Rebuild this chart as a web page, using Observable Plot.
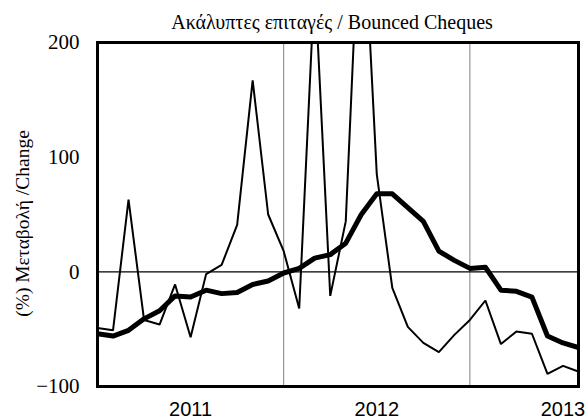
<!DOCTYPE html>
<html>
<head>
<meta charset="utf-8">
<script src="https://cdn.jsdelivr.net/npm/d3@7"></script>
<script src="https://cdn.jsdelivr.net/npm/@observablehq/plot@0.6"></script>
<style>
  html, body { margin: 0; padding: 0; background: white; }
</style>
</head>
<body>
<div id="chart"></div>
<script>
const title = "Ακάλυπτες επιταγές / Bounced Cheques";
const yLabel = "(%) Μεταβολή /Change";

const months = [
  "2010-07","2010-08","2010-09","2010-10","2010-11","2010-12",
  "2011-01","2011-02","2011-03","2011-04","2011-05","2011-06",
  "2011-07","2011-08","2011-09","2011-10","2011-11","2011-12",
  "2012-01","2012-02","2012-03","2012-04","2012-05","2012-06",
  "2012-07","2012-08","2012-09","2012-10","2012-11","2012-12",
  "2013-01","2013-02"
];

// thin line: monthly % change
const monthly = [
  -49, -51, 63, -42, -46, -11, -57, -2, 6, 41, 167, 50,
  18, -32, 255, -21, 44, 350, 85, -14, -48, -62, -70, -55,
  -42, -25, -63, -52, -54, -89, -82, -87
];

// thick line: smoothed % change
const smoothed = [
  -54, -56, -51, -41, -34, -21, -22, -16, -19, -18, -11, -8,
  -1, 3, 12, 15, 25, 50, 68, 68, 56, 44, 18, 10,
  3, 4, -16, -17, -22, -56, -62, -66
];

const xTickMonths = ["2011-01", "2012-01", "2013-01"];
const xTickLabels = ["2011", "2012", "2013"];
const gridMonths = ["2011-07", "2012-07"];
const yTicks = [-100, 0, 100, 200];

const rows = months.map((m, i) => ({i, month: m, monthly: monthly[i], smoothed: smoothed[i]}));
const xTickIdx = xTickMonths.map(m => months.indexOf(m));
const gridIdx = gridMonths.map(m => months.indexOf(m));

const serif = "Liberation Serif";
const sans = "Liberation Sans";

const chart = Plot.plot({
  width: 588,
  height: 420,
  marginLeft: 97,
  marginRight: 10,
  marginTop: 42,
  marginBottom: 34,
  style: {fontFamily: serif, fontSize: "20px", background: "white", color: "black", overflow: "visible"},
  x: {domain: [0, months.length - 1], axis: null},
  y: {domain: [-100, 200], axis: null},
  marks: [
    Plot.ruleX(gridIdx, {stroke: "#808080", strokeWidth: 1}),
    Plot.ruleY([0], {stroke: "black", strokeWidth: 1.2}),
    Plot.lineY(rows, {x: "i", y: "monthly", stroke: "black", strokeWidth: 2, strokeLinejoin: "miter", clip: true}),
    Plot.lineY(rows, {x: "i", y: "smoothed", stroke: "black", strokeWidth: 5, strokeLinejoin: "round", clip: true}),
    Plot.axisY({ticks: yTicks, tickSize: 0, tickPadding: 18, fontSize: 21, fontFamily: serif, label: null}),
    Plot.axisX({ticks: xTickIdx, tickFormat: d => xTickLabels[xTickIdx.indexOf(d)], tickSize: 0, tickPadding: 15, fontSize: 20, fontFamily: sans, label: null}),
    Plot.frame({stroke: "black", strokeWidth: 3}),
    Plot.text([title], {frameAnchor: "top", lineAnchor: "middle", dy: -20, dx: -6, fontSize: 20, fontFamily: serif, fill: "black"}),
    Plot.text([yLabel], {frameAnchor: "left", textAnchor: "middle", dx: -75, dy: 9, rotate: -90, fontSize: 19.5, fontFamily: serif, fill: "black"})
  ]
});
document.getElementById("chart").appendChild(chart);
</script>
</body>
</html>
